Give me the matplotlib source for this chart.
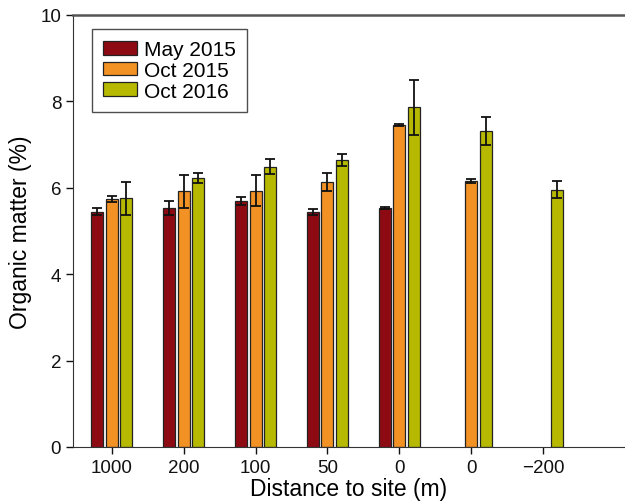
import numpy as np
import matplotlib.pyplot as plt

plt.rcParams['font.family'] = ['Liberation Sans', 'DejaVu Sans']

# Sites along the transect (two separate "0" stations)
sites = ["1000", "200", "100", "50", "0", "0", "\u2212200"]
series = ["May 2015", "Oct 2015", "Oct 2016"]
colors = ["#8e0a12", "#f29224", "#b7b900"]

# organic matter (%) and standard error; nan = not sampled
may15 = [5.45, 5.53, 5.69, 5.43, 5.53, np.nan, np.nan]
may15_err = [0.09, 0.16, 0.10, 0.07, 0.02, np.nan, np.nan]
oct15 = [5.74, 5.92, 5.93, 6.13, 7.45, 6.16, np.nan]
oct15_err = [0.06, 0.38, 0.36, 0.21, 0.03, 0.04, np.nan]
oct16 = [5.76, 6.23, 6.49, 6.64, 7.86, 7.32, 5.96]
oct16_err = [0.38, 0.12, 0.17, 0.14, 0.64, 0.32, 0.19]

values = [may15, oct15, oct16]
errors = [may15_err, oct15_err, oct16_err]

fig = plt.figure(figsize=(6.25, 5.02), dpi=100)
ax = fig.add_axes([0.1168, 0.1076, 0.8832, 0.8606])

x = np.arange(len(sites))
width = 0.167
step = 0.2
for i in range(3):
    ax.bar(x + (i - 1) * step, values[i], width, yerr=errors[i],
           color=colors[i], edgecolor="#222222", linewidth=0.9,
           label=series[i], capsize=3.6,
           error_kw=dict(ecolor="#111111", elinewidth=1.3, capthick=1.3))

ax.set_xlim(-0.54, 7.14)
ax.set_ylim(0, 10)
ax.set_xticks(x)
ax.set_xticklabels(sites)
ax.set_yticks([0, 2, 4, 6, 8, 10])
ax.tick_params(axis="both", direction="out", length=5, width=1,
               labelsize=13.5, colors="#111111")
ax.set_xlabel("Distance to site (m)", fontsize=16.5, labelpad=1)
ax.set_ylabel("Organic matter (%)", fontsize=16.5, labelpad=6)

ax.spines["right"].set_visible(False)
ax.spines["top"].set_linewidth(1.8)
ax.spines["top"].set_color("#555555")
ax.spines["left"].set_color("#333333")
ax.spines["bottom"].set_color("#333333")

leg = ax.legend(loc="upper left", bbox_to_anchor=(0.034, 0.968),
                fontsize=15, frameon=True, fancybox=False,
                handlelength=1.6, handleheight=0.62, handletextpad=0.35,
                labelspacing=0.08, borderpad=0.55, borderaxespad=0)
leg.get_frame().set_edgecolor("#222222")
leg.get_frame().set_linewidth(1.0)

fig.savefig("out.png", dpi=100)
